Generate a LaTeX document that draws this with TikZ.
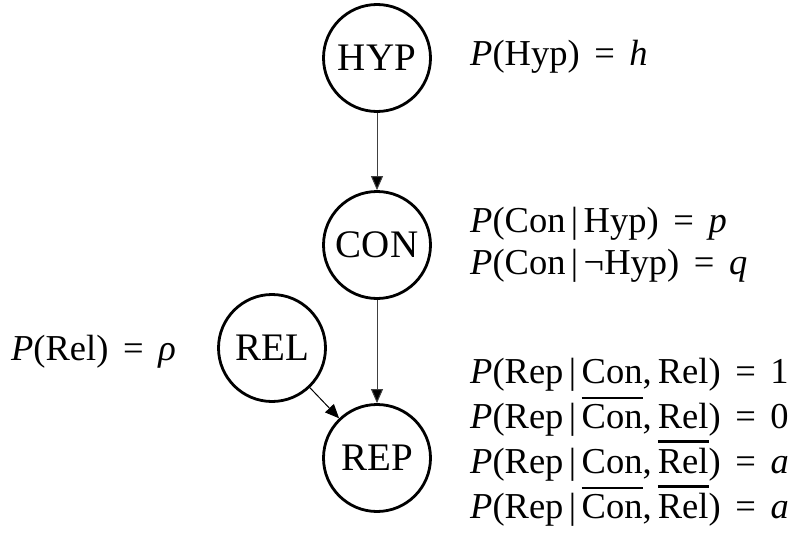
\documentclass[tikz,border=0pt]{standalone}
\usepackage{fontspec}
\setmainfont{Liberation Serif}
\usetikzlibrary{arrows.meta}
\newcommand{\iv}[1]{\textit{#1}}
\newcommand{\gv}{\hspace{0.15em}|\hspace{0.15em}}
\newcommand{\eqs}{\hspace{0.4em}=\hspace{0.4em}}
\newcommand{\cm}{,\hspace{0.17em}}
\newcommand{\ovl}[1]{\vbox{\hrule height 2.2pt\kern 5pt\hbox{#1}}}
\begin{document}
\begin{tikzpicture}[x=1pt,y=-1pt,
  var/.style={circle,draw,line width=2.8pt,minimum size=107pt,inner sep=0pt,
    font=\fontsize{39}{40}\selectfont},
  lbl/.style={anchor=base west,inner sep=0pt,font=\fontsize{36.5}{40}\selectfont},
  edge/.style={line width=1pt,black!75,-{Triangle[length=14pt,width=12pt,fill=black]}}]
\useasboundingbox (0,0) rectangle (803,551);
\node[var] (hyp) at (377,58) {HYP};
\node[var] (con) at (377,245) {CON};
\node[var] (rel) at (272,348) {REL};
\node[var] (rep) at (377,458) {REP};
\draw[edge] (hyp) -- (con);
\draw[edge] (con) -- (rep);
\draw[edge,black] (rel) -- (rep);
\node[lbl] (l1) at (470,66) {\iv{P}(Hyp)\eqs\iv{h}};
\node[lbl] (l2) at (470,232) {\iv{P}(Con\gv Hyp)\eqs\iv{p}};
\node[lbl] (l3) at (470,274) {\iv{P}(Con\gv ¬Hyp)\eqs\iv{q}};
\node[lbl] (l4) at (11,360) {\iv{P}(Rel)\eqs\iv{ρ}};
\node[lbl] (l5) at (470,383) {\iv{P}(Rep\gv Con\cm Rel)\eqs 1};
\node[lbl] (l6) at (470,428) {\iv{P}(Rep\gv \ovl{Con}\cm Rel)\eqs 0};
\node[lbl] (l7) at (470,473) {\iv{P}(Rep\gv Con\cm \ovl{Rel})\eqs\iv{a}};
\node[lbl] (l8) at (470,518) {\iv{P}(Rep\gv \ovl{Con}\cm \ovl{Rel})\eqs\iv{a}};
\end{tikzpicture}
\end{document}
